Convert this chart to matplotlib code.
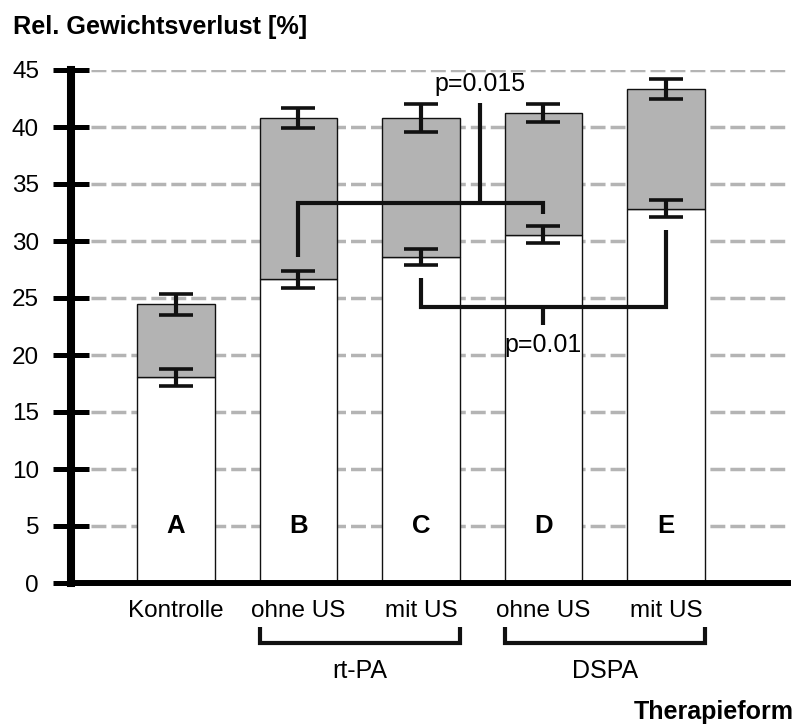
import numpy as np
import matplotlib.pyplot as plt
from matplotlib.transforms import blended_transform_factory

plt.rcParams['font.family'] = ['Liberation Sans', 'DejaVu Sans']

# weight loss per therapy group, lower (white) and total (grey top)
groups = ['Kontrolle', 'ohne US', 'mit US', 'ohne US', 'mit US']
letters = ['A', 'B', 'C', 'D', 'E']
lower = np.array([18.05, 26.65, 28.6, 30.55, 32.85])
total = np.array([24.45, 40.8, 40.8, 41.25, 43.35])
err_lower = np.array([0.75, 0.75, 0.72, 0.76, 0.75])
err_total = np.array([0.92, 0.88, 1.25, 0.77, 0.85])
yticks = [0, 5, 10, 15, 20, 25, 30, 35, 40, 45]

# significance brackets: (x points, y points), label at (x, y)
sig_a_x = [1, 1, 3, 3]
sig_a_y = [28.6, 33.35, 33.35, 32.4]
sig_a_stem = ([2.48, 2.48], [33.35, 42.1])
sig_a_label = (2.48, 43.8, 'p=0.015')
sig_b_x = [2, 2, 4, 4]
sig_b_y = [26.75, 24.25, 24.25, 31.0]
sig_b_stem = ([3.0, 3.0], [24.25, 22.65])
sig_b_label = (3.0, 20.9, 'p=0.01')

W, H = 798, 725
fig = plt.figure(figsize=(W / 100, H / 100), dpi=100)
ax = fig.add_axes([71 / W, (H - 583) / H, (788 - 71) / W, (583 - 70) / H])

x = np.arange(len(groups))
bw = 0.63
ax.bar(x, lower, width=bw, color='white', edgecolor='#111111', lw=1.0, zorder=2)
ax.bar(x, total - lower, bottom=lower, width=bw, color='#b3b3b3',
       edgecolor='#111111', lw=1.0, zorder=2)

ax.errorbar(x, total, yerr=err_total, fmt='none', ecolor='#111111',
            elinewidth=3, capsize=12.5, capthick=2.6, zorder=4)
ax.errorbar(x, lower, yerr=err_lower, fmt='none', ecolor='#111111',
            elinewidth=3, capsize=12.5, capthick=2.6, zorder=4)

for xi, letter in zip(x, letters):
    ax.text(xi, 5, letter, ha='center', va='center', fontsize=18.5,
            fontweight='bold', zorder=3)

# significance brackets
line_kw = dict(color='#111111', lw=3, solid_joinstyle='miter',
               solid_capstyle='butt', zorder=5)
ax.plot(sig_a_x, sig_a_y, **line_kw)
ax.plot(*sig_a_stem, **line_kw)
ax.plot(sig_b_x, sig_b_y, **line_kw)
ax.plot(*sig_b_stem, **line_kw)
for lx, ly, txt in (sig_a_label, sig_b_label):
    ax.text(lx, ly, txt, ha='center', va='center', fontsize=18, zorder=6)

ax.set_xlim(-0.857, 4.996)
ax.set_ylim(0, 45)
ax.set_yticks(yticks)
ax.set_xticks(x, groups)
ax.tick_params(axis='y', direction='inout', length=26, width=3.6, pad=10,
               labelsize=17.5)
ax.tick_params(axis='x', length=0, pad=12, labelsize=17.5)

ax.set_axisbelow(True)
ax.yaxis.grid(True, color='#b4b4b4', lw=2.5, linestyle=(0, (4.3, 1.45)))

for side in ('top', 'right'):
    ax.spines[side].set_visible(False)
ax.spines['left'].set_linewidth(5.8)
ax.spines['bottom'].set_linewidth(4.3)

# group brackets under the category labels
trans = blended_transform_factory(ax.transData, ax.transAxes)
for i0, i1, name in ((1, 2, 'rt-PA'), (3, 4, 'DSPA')):
    xl, xr = i0 - bw / 2, i1 + bw / 2
    ax.plot([xl, xl, xr, xr], [-0.086, -0.117, -0.117, -0.086], transform=trans,
            clip_on=False, color='#111111', lw=3, solid_joinstyle='miter',
            solid_capstyle='butt')
    ax.text((xl + xr) / 2, -0.172, name, transform=trans, ha='center',
            va='center', fontsize=18)

fig.text(13 / W, (H - 34) / H, 'Rel. Gewichtsverlust [%]', fontsize=18.2,
         fontweight='bold', ha='left', va='baseline')
fig.text(794 / W, (H - 719) / H, 'Therapieform', fontsize=18,
         fontweight='bold', ha='right', va='baseline')

fig.savefig('out.png', dpi=100)
